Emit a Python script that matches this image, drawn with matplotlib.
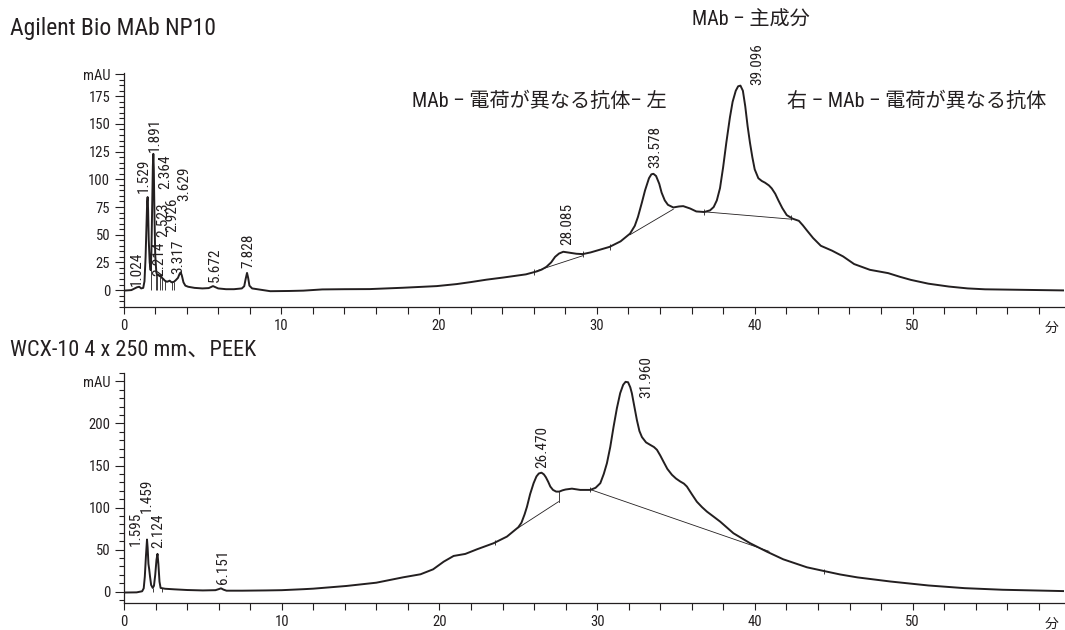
import numpy as np
import matplotlib
matplotlib.use("Agg")
import matplotlib.pyplot as plt
from matplotlib import font_manager
from matplotlib.ticker import FixedLocator, FixedFormatter

# ---------------- data ----------------
# Top chromatogram: Agilent Bio MAb NP10
top_t = [0.0, 0.5, 0.85, 1.0, 1.12, 1.25, 1.33, 1.40, 1.46, 1.50, 1.529, 1.56, 1.60, 1.66, 1.72,
         1.77, 1.82, 1.86, 1.891, 1.92, 1.96, 2.01, 2.08, 2.15, 2.214, 2.29, 2.364, 2.44, 2.523,
         2.62, 2.75, 2.85, 2.926, 3.05, 3.2, 3.317, 3.45, 3.55, 3.629, 3.70, 3.80, 3.92, 4.1, 4.5,
         5.0, 5.4, 5.55, 5.672, 5.8, 6.0, 6.5, 7.0, 7.5, 7.65, 7.74, 7.828, 7.90, 7.98, 8.15, 8.6,
         9.3, 10.5, 11.4, 12.6, 14.0, 15.6, 17.7, 19.85, 21.1, 22.0, 23.0, 24.1, 25.5, 26.2, 26.5,
         26.8, 27.1, 27.35, 27.6, 27.87, 28.3, 28.7, 29.1, 29.6, 30.2, 30.8, 31.5, 32.1, 32.4,
         32.6, 32.85, 33.05, 33.3, 33.45, 33.58, 33.75, 33.95, 34.1, 34.3, 34.5, 34.84, 35.2,
         35.47, 35.9, 36.3, 36.8, 37.17, 37.4, 37.6, 37.8, 38.0, 38.2, 38.43, 38.6, 38.8, 38.95,
         39.096, 39.25, 39.4, 39.55, 39.7, 39.85, 40.0, 40.23, 40.45, 40.65, 40.9, 41.08, 41.3,
         41.5, 41.75, 42.03, 42.4, 42.8, 43.05, 43.3, 43.7, 44.19, 44.9, 45.6, 46.3, 47.3, 48.0,
         48.46, 49.2, 49.9, 51.0, 52.3, 53.5, 54.6, 57.0, 59.6]
top_y = [-0.5, 0.0, 2.5, 3.0, 1.5, 2.0, 8, 30, 62, 80, 84, 72, 45, 25, 18,
         35, 80, 112, 123, 110, 70, 32, 16, 13, 14, 12.5, 13.5, 11, 10,
         8.5, 7.5, 8, 8.5, 7, 7.5, 9, 11, 14.5, 16, 13, 7, 4, 3, 2,
         1.5, 1.8, 2.8, 3.6, 2.8, 1.5, 0.8, 0.8, 1.5, 3.5, 10, 15.5, 11, 4, 1.5, 0.5,
         -1.0, -0.8, -0.5, 0.6, 0.8, 0.9, 2.1, 3.6, 5.4, 7.2, 9.4, 11.4, 14.2, 16.9, 18.5,
         21, 25, 30, 33, 34.6, 33.7, 32.8, 32.5, 34, 36.5, 39, 44, 51, 58,
         66, 79, 90, 101, 104.5, 105, 103, 96, 88, 81, 77, 74.6, 75.5,
         75.8, 73.7, 71, 70.5, 72, 75, 81, 92, 111, 133, 156, 170, 180, 184,
         184.6, 180, 166, 148, 133, 120, 109, 101, 98.5, 97, 94.5, 91.8, 87,
         81, 74, 67.7, 64.5, 62.5, 58.5, 54, 47, 40, 35.6, 30.4, 23.5, 18.3, 16.5,
         15.3, 12, 9.2, 5.8, 3.2, 1.5, 0.7, 0.2, -0.3]

# Bottom chromatogram: WCX-10 4 x 250 mm, PEEK
bot_t = [0.0, 0.8, 1.15, 1.25, 1.32, 1.39, 1.459, 1.50, 1.55, 1.595, 1.65, 1.72, 1.82, 1.90,
         1.98, 2.06, 2.124, 2.18, 2.25, 2.32, 2.6, 3.2, 4.0, 5.0, 5.8, 6.0, 6.151, 6.3, 6.5,
         7.5, 9.0, 10.0, 11.4, 12.0, 14.1, 16.0, 17.7, 18.8, 19.6, 20.27, 20.9, 21.64, 22.38,
         23.43, 24.28, 25.0, 25.2, 25.4, 25.55, 25.75, 25.97, 26.15, 26.3, 26.47, 26.62, 26.75,
         26.9, 27.03, 27.2, 27.4, 27.6, 27.8, 28.0, 28.4, 28.93, 29.56, 29.9, 30.2, 30.42,
         30.62, 30.83, 31.04, 31.25, 31.46, 31.65, 31.8, 31.96, 32.1, 32.2, 32.35, 32.52, 32.68,
         32.84, 33.1, 33.36, 33.6, 33.79, 34.0, 34.2, 34.45, 34.74, 35.0, 35.27, 35.5, 35.69,
         36.0, 36.32, 36.65, 36.96, 37.4, 37.8, 38.64, 39.7, 40.76, 41.8, 43.3, 44.4, 45.4,
         46.5, 48.6, 51.0, 53.3, 55.7, 59.6]
bot_y = [-1, -0.8, 0.5, 4, 18, 42, 62, 52, 33, 27, 18, 8, 4.5, 7,
         20, 38, 45, 33, 12, 4.5, 3.5, 2.8, 2.0, 1.5, 1.8, 3.0, 4.0, 2.5, 1.2,
         1.2, 1.5, 1.8, 3.0, 3.6, 6.8, 10.7, 17.1, 20.7, 26.6, 35.7, 42.5, 44.9, 50.4,
         57.6, 65.5, 76.6, 82, 92, 101, 116, 129, 137, 140.5, 141.5, 139.5, 136,
         130.5, 125, 121, 119, 119, 120.5, 121.5, 122.5, 121, 121, 123.5, 129, 140,
         152.8, 172, 196, 218, 236, 246, 249.5, 249, 243, 236, 221, 204, 191,
         183.8, 177.5, 174.6, 172, 168.7, 162, 154.8, 146, 139, 134.5, 131, 128.5, 125,
         116, 107, 100.5, 95.2, 89, 83.3, 69.5, 57.6, 47.6, 38.5, 29, 24.5, 20.5,
         17, 12.1, 7.4, 4.2, 2.3, 0.7]

# Peak labels: text, label x (min), label bottom (mAU)
top_labels = ["1.024", "1.529", "1.891", "2.214", "2.364", "2.523", "2.926", "3.317",
              "3.629", "5.672", "7.828", "28.085", "33.578", "39.096"]
top_label_x = [0.85, 1.30, 2.00, 2.27, 2.62, 2.50, 3.12, 3.50, 3.82, 5.80, 7.91, 28.15, 33.68, 40.15]
top_label_y = [4, 88, 124.5, 13, 91, 48, 52, 14.5, 80, 7.5, 20, 40.6, 110, 185]

bot_labels = ["1.595", "1.459", "2.124", "6.151", "26.470", "31.960"]
bot_label_x = [0.75, 1.47, 2.20, 6.28, 26.50, 33.10]
bot_label_y = [54, 94, 52, 9, 147, 230]

# Integration baselines (start/end points, min & mAU)
top_base_t = [(26.2, 29.1), (32.1, 34.84), (36.53, 42.34)]
top_base_y = [(17.5, 31.0), (50.0, 73.0), (71.0, 64.0)]
bot_base_t = [(25.0, 27.55), (29.56, 40.9)]
bot_base_y = [(76.0, 107.0), (121.5, 48.0)]
bot_drop_extra = [(27.55, 107.0, 119.0)]

# Drop lines (min) and integration marks (min)
top_drops = [1.75, 2.08, 2.15, 2.29, 2.44, 2.62, 3.05, 3.2]
bot_drops = [1.83, 2.38]
top_marks = [26.0, 29.1, 30.8, 36.8, 42.3]
bot_marks = [23.5, 29.56, 44.4]

top_yticks = [0, 25, 50, 75, 100, 125, 150, 175, 195]
top_yticklabels = ["0", "25", "50", "75", "100", "125", "150", "175", "mAU"]
bot_yticks = [0, 50, 100, 150, 200, 250]
bot_yticklabels = ["0", "50", "100", "150", "200", "mAU"]
xticks = [0, 10, 20, 30, 40, 50]
xticklabels = ["0", "10", "20", "30", "40", "50"]

title_top = "Agilent Bio MAb NP10"
title_bot = "WCX-10 4 x 250 mm、PEEK"
ann_main = "MAb – 主成分"
ann_left = "MAb – 電荷が異なる抗体– 左"
ann_right = "右 – MAb – 電荷が異なる抗体"
unit_x = "分"

# ---------------- fonts ----------------
names = {f.name for f in font_manager.fontManager.ttflist}
narrow = None
for cand in ["Liberation Sans Narrow", "Roboto Condensed", "DejaVu Sans"]:
    if cand in names:
        narrow = cand
        break
FAM = [narrow, "Noto Sans CJK JP", "DejaVu Sans"]
plt.rcParams["font.family"] = FAM
INK = "#231f20"

W, H = 1065, 630
fig = plt.figure(figsize=(W / 100, H / 100), dpi=100)

XMAX = 59.6


def px_axes(left, right, top, bottom):
    return [left / W, 1 - bottom / H, (right - left) / W, (bottom - top) / H]


ax1 = fig.add_axes(px_axes(123.5, 1064, 73.0, 306.7))
ax2 = fig.add_axes(px_axes(124.0, 1064, 373.0, 603.3))


def style(ax, ylo, yhi, yt, ytl, yminor):
    ax.set_xlim(0, XMAX)
    ax.set_ylim(ylo, yhi)
    for s in ["top", "right"]:
        ax.spines[s].set_visible(False)
    for s in ["left", "bottom"]:
        ax.spines[s].set_color(INK)
        ax.spines[s].set_linewidth(0.9)
    ax.xaxis.set_major_locator(FixedLocator(xticks))
    ax.xaxis.set_major_formatter(FixedFormatter(xticklabels))
    ax.xaxis.set_minor_locator(FixedLocator(np.arange(0, XMAX, 2)))
    ax.yaxis.set_major_locator(FixedLocator(yt))
    ax.yaxis.set_major_formatter(FixedFormatter(ytl))
    ax.yaxis.set_minor_locator(FixedLocator(yminor))
    ax.tick_params(axis="x", which="both", direction="out", length=5, width=0.8,
                   colors=INK, labelsize=10.5, pad=3.5)
    ax.tick_params(axis="y", which="major", direction="out", length=6.5, width=0.8,
                   colors=INK, labelsize=10.5, pad=3)
    ax.tick_params(axis="y", which="minor", direction="out", length=3.5, width=0.8,
                   colors=INK)
    ax.annotate(unit_x, xy=(0.987, 0), xycoords="axes fraction", xytext=(0, -15),
                textcoords="offset points", ha="center", va="center",
                fontsize=10, color=INK, family=["Noto Sans CJK JP", "DejaVu Sans"])


style(ax1, -15, 196, top_yticks, top_yticklabels, np.arange(-15, 196, 5))
style(ax2, -13.8, 260, bot_yticks, bot_yticklabels, np.arange(-10, 261, 10))

# curves
ax1.plot(top_t, top_y, color=INK, lw=1.4, solid_joinstyle="round")
ax2.plot(bot_t, bot_y, color=INK, lw=1.4, solid_joinstyle="round")

# baselines
for (t0, t1), (y0, y1) in zip(top_base_t, top_base_y):
    ax1.plot([t0, t1], [y0, y1], color=INK, lw=0.6)
for (t0, t1), (y0, y1) in zip(bot_base_t, bot_base_y):
    ax2.plot([t0, t1], [y0, y1], color=INK, lw=0.6)
for t, y0, y1 in bot_drop_extra:
    ax2.plot([t, t], [y0, y1], color=INK, lw=0.6)

# drop lines
ax1.vlines(top_drops, 0, np.interp(top_drops, top_t, top_y), color=INK, lw=0.6)
ax2.vlines(bot_drops, 0, np.interp(bot_drops, bot_t, bot_y), color=INK, lw=0.6)

# integration marks
ty = np.interp(top_marks, top_t, top_y)
ax1.vlines(top_marks, ty - 2.5, ty + 2.5, color=INK, lw=0.6)
by = np.interp(bot_marks, bot_t, bot_y)
ax2.vlines(bot_marks, by - 3, by + 3, color=INK, lw=0.6)

# peak labels
for s, x, y in zip(top_labels, top_label_x, top_label_y):
    ax1.text(x, y, s, rotation=90, ha="center", va="bottom", fontsize=11,
             color=INK, clip_on=False)
for s, x, y in zip(bot_labels, bot_label_x, bot_label_y):
    ax2.text(x, y, s, rotation=90, ha="center", va="bottom", fontsize=11,
             color=INK, clip_on=False)

# titles and annotations (pixel positions)
def ftext(x, y, s, ha="left", size=13):
    fig.text(x / W, 1 - y / H, s, ha=ha, va="center", fontsize=size, color=INK)

ftext(10, 29, title_top, size=17)
ftext(10, 350, title_bot, size=16)
ftext(751, 20, ann_main, ha="center", size=14.5)
ftext(539, 101, ann_left, ha="center", size=14.5)
ftext(917, 101, ann_right, ha="center", size=14.5)

fig.savefig("out.png", dpi=100)
